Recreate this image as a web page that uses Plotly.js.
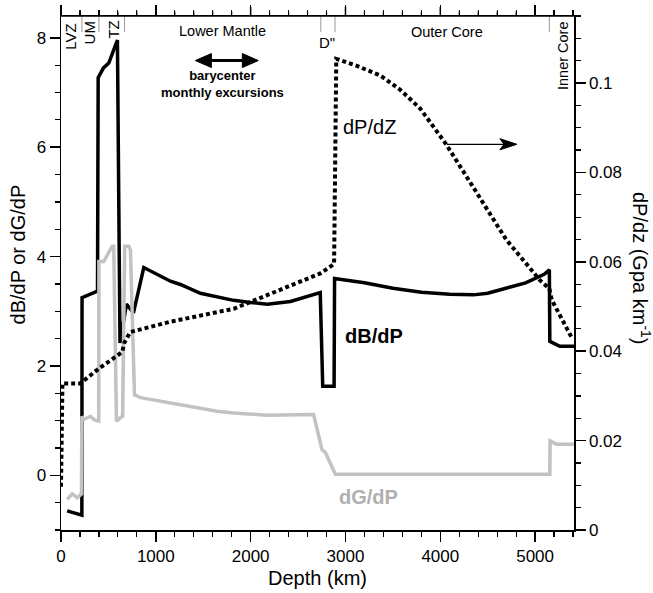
<!DOCTYPE html>
<html>
<head>
<meta charset="utf-8">
<script src="https://cdn.plot.ly/plotly-3.0.1.min.js"></script>
<style>
html,body{margin:0;padding:0;background:#fff;overflow:hidden;}
#wrap{position:relative;width:653px;height:593px;}
#chart{width:653px;height:593px;}
#frameTop{position:absolute;left:0;top:0;width:653px;height:593px;pointer-events:none;z-index:1000;}
</style>
</head>
<body>
<div id="wrap">
<div id="chart"></div>
<svg id="frameTop" xmlns="http://www.w3.org/2000/svg" width="653" height="593"></svg>
</div>
<script>
// dB/dP (left axis)
var dbDepth = [65, 220, 222, 385, 392, 448, 504, 595, 622, 690, 764, 873, 1154, 1259, 1470, 1820, 2000, 2175, 2420, 2734, 2760, 2880, 2885, 3200, 3500, 3800, 4100, 4350, 4500, 4700, 4900, 5100, 5150, 5155, 5260, 5410];
var dbVal   = [-0.65, -0.73, 3.25, 3.37, 7.27, 7.45, 7.54, 7.96, 2.42, 3.13, 2.97, 3.80, 3.55, 3.49, 3.33, 3.20, 3.16, 3.13, 3.18, 3.34, 1.63, 1.63, 3.60, 3.52, 3.42, 3.35, 3.31, 3.30, 3.33, 3.42, 3.52, 3.68, 3.76, 2.45, 2.36, 2.36];

// dG/dP (left axis)
var dgDepth = [65, 118, 171, 216, 220, 240, 311, 346, 398, 400, 451, 540, 556, 585, 645, 650, 672, 715, 732, 775, 838, 1119, 1294, 1646, 1821, 2173, 2664, 2752, 2787, 2893, 5155, 5158, 5225, 5410];
var dgVal   = [-0.44, -0.34, -0.41, -0.34, 1.08, 1.02, 1.08, 1.02, 0.99, 3.91, 3.91, 4.19, 4.19, 0.99, 1.08, 1.08, 4.19, 4.19, 4.13, 1.47, 1.42, 1.33, 1.27, 1.17, 1.14, 1.10, 1.11, 0.47, 0.42, 0.02, 0.02, 0.63, 0.57, 0.57];

// dP/dz (right axis, GPa/km)
var dpDepth = [0, 15, 205, 398, 645, 670, 732, 1154, 1821, 1950, 2418, 2734, 2880, 2903, 3114, 3367, 3577, 3788, 4062, 4347, 4694, 5050, 5150, 5175, 5382];
var dpVal   = [0.0097, 0.0328, 0.0328, 0.0361, 0.0398, 0.0420, 0.0443, 0.0466, 0.0495, 0.0506, 0.0547, 0.0574, 0.0595, 0.1054, 0.1039, 0.1017, 0.0985, 0.0943, 0.0863, 0.0768, 0.0650, 0.0559, 0.0540, 0.0515, 0.0432];

// region boundaries (km)
var boundaries = [220, 400, 670, 2740, 2890, 5150];
var xTicks = [0, 1000, 2000, 3000, 4000, 5000];
var xMinorStep = 200;
var xRange = [0, 5410];

var FONT = 'Arial, "Liberation Sans", sans-serif';

var traces = [
  {x: dbDepth, y: dbVal, type: 'scatter', mode: 'lines', name: 'dB/dP',
   line: {color: '#000000', width: 3.5}, yaxis: 'y', hoverinfo: 'skip'},
  {x: dgDepth, y: dgVal, type: 'scatter', mode: 'lines', name: 'dG/dP',
   line: {color: '#c2c2c2', width: 3.5}, yaxis: 'y', hoverinfo: 'skip'},
  {x: dpDepth, y: dpVal, type: 'scatter', mode: 'lines', name: 'dP/dz',
   line: {color: '#000000', width: 4, dash: '4px,3px'}, yaxis: 'y2', hoverinfo: 'skip'}
];

var shapes = boundaries.map(function (b) {
  return {type: 'line', xref: 'x', yref: 'paper', x0: b, x1: b, y0: 0.969, y1: 1,
          line: {color: '#9a9a9a', width: 1}};
});
// "barycenter monthly excursions" double arrow
shapes.push({type: 'line', xref: 'x', yref: 'y', x0: 1560, x1: 1940, y0: 7.585, y1: 7.585,
             line: {color: '#000', width: 3}});
shapes.push({type: 'path', xref: 'x', yref: 'y', path: 'M1417,7.585 L1586,7.713 L1586,7.457 Z',
             fillcolor: '#000', line: {color: '#000', width: 1}});
shapes.push({type: 'path', xref: 'x', yref: 'y', path: 'M2081,7.585 L1912,7.713 L1912,7.457 Z',
             fillcolor: '#000', line: {color: '#000', width: 1}});
// dP/dZ -> right-axis arrow
shapes.push({type: 'line', xref: 'x', yref: 'y2', x0: 4070, x1: 4690, y0: 0.0863, y1: 0.0863,
             line: {color: '#000', width: 1.2}});
shapes.push({type: 'path', xref: 'x', yref: 'y2', path: 'M4807,0.0863 L4628,0.08755 L4672,0.0863 L4628,0.08505 Z',
             fillcolor: '#000', line: {color: '#000', width: 1}});

function ann(o) {
  o.showarrow = false;
  o.xanchor = 'center';
  o.yanchor = 'middle';
  return o;
}

var annotations = [
  ann({text: 'LVZ', x: 105, y: 8.02, xref: 'x', yref: 'y', textangle: -90, font: {size: 15, color: '#000'}}),
  ann({text: 'UM', x: 300, y: 8.09, xref: 'x', yref: 'y', textangle: -90, font: {size: 15, color: '#000'}}),
  ann({text: 'TZ', x: 553, y: 8.16, xref: 'x', yref: 'y', textangle: -90, font: {size: 15, color: '#000'}}),
  ann({text: 'Lower Mantle', x: 1702, y: 8.13, xref: 'x', yref: 'y', font: {size: 14.5, color: '#000'}}),
  ann({text: 'D"', x: 2808, y: 7.91, xref: 'x', yref: 'y', font: {size: 15, color: '#000'}}),
  ann({text: 'Outer Core', x: 4073, y: 8.10, xref: 'x', yref: 'y', font: {size: 14.5, color: '#000'}}),
  ann({text: 'Inner Core', x: 5295, y: 7.67, xref: 'x', yref: 'y', textangle: -90, font: {size: 14.5, color: '#000'}}),
  ann({text: '<b>barycenter</b><br><b>monthly excursions</b>', x: 1699, y: 7.16, xref: 'x', yref: 'y', font: {size: 13, color: '#000'}}),
  ann({text: 'dP/dZ', x: 3254, y: 0.0901, xref: 'x', yref: 'y2', font: {size: 20, color: '#000'}}),
  ann({text: '<b>dB/dP</b>', x: 3302, y: 2.54, xref: 'x', yref: 'y', font: {size: 20, color: '#000'}}),
  ann({text: '<b>dG/dP</b>', x: 3245, y: -0.40, xref: 'x', yref: 'y', font: {size: 20, color: '#b0b0b0'}}),
  ann({text: 'dB/dP or dG/dP', x: -0.0848, y: 0.537, xref: 'paper', yref: 'paper', textangle: -90,
       font: {size: 20, color: '#000'}}),
  ann({text: 'dP/dz (Gpa km<sup>-1</sup>)', x: 1.1306, y: 0.5078, xref: 'paper', yref: 'paper', textangle: 90,
       font: {size: 20, color: '#000'}})
];

var layout = {
  width: 653, height: 593,
  margin: {l: 61, r: 79, t: 16, b: 63, pad: 0},
  paper_bgcolor: '#ffffff', plot_bgcolor: '#ffffff',
  font: {family: FONT, color: '#000', size: 17},
  showlegend: false,
  xaxis: {
    range: xRange, tickvals: xTicks, ticktext: xTicks.map(String),
    showgrid: false, zeroline: false, showline: true, linecolor: '#000', linewidth: 1.5,
    mirror: 'ticks',
    ticks: 'outside', ticklen: 10, tickwidth: 1.5, tickcolor: '#000',
    tickfont: {size: 17, family: FONT},
    minor: {dtick: xMinorStep, tick0: 0, ticks: 'outside', ticklen: 5, tickwidth: 1.2, tickcolor: '#000', showgrid: false},
    title: {text: 'Depth (km)', font: {size: 20, family: FONT}, standoff: 6}
  },
  yaxis: {
    range: [-1, 8.4], dtick: 2, tick0: 0,
    showgrid: false, zeroline: false, showline: true, linecolor: '#000', linewidth: 1.5,
    ticks: 'outside', ticklen: 10, tickwidth: 1.5, tickcolor: '#000',
    tickfont: {size: 17, family: FONT},
    minor: {dtick: 0.5, tick0: 0, ticks: 'outside', ticklen: 5, tickwidth: 1.2, tickcolor: '#000', showgrid: false}
  },
  yaxis2: {
    range: [0, 0.115], dtick: 0.02, tick0: 0, overlaying: 'y', side: 'right',
    showgrid: false, zeroline: false, showline: true, linecolor: '#000', linewidth: 1.5,
    ticks: 'outside', ticklen: 10, tickwidth: 1.5, tickcolor: '#000',
    tickfont: {size: 17, family: FONT},
    minor: {dtick: 0.005, tick0: 0, ticks: 'outside', ticklen: 5, tickwidth: 1.2, tickcolor: '#000', showgrid: false}
  },
  shapes: shapes,
  annotations: annotations
};

// Top frame line and its outward ticks, placed with Plotly's own x scale
function drawTopFrame(gd) {
  var fl = gd._fullLayout;
  var xa = fl.xaxis, ya = fl.yaxis;
  var svg = document.getElementById('frameTop');
  var NS = 'http://www.w3.org/2000/svg';
  var top = ya._offset;
  var left = xa._offset, right = xa._offset + xa._length;
  function line(x1, y1, x2, y2, w) {
    var l = document.createElementNS(NS, 'line');
    l.setAttribute('x1', x1); l.setAttribute('y1', y1);
    l.setAttribute('x2', x2); l.setAttribute('y2', y2);
    l.setAttribute('stroke', '#000'); l.setAttribute('stroke-width', w);
    svg.appendChild(l);
  }
  line(left - 0.75, top, right + 0.75, top, 1.5);
  for (var t = xRange[0]; t <= xRange[1]; t += xMinorStep) {
    var major = xTicks.indexOf(t) >= 0;
    var px = xa._offset + xa.l2p(t);
    line(px, top, px, top - (major ? 9 : 4.5), major ? 1.5 : 1.2);
  }
}

Plotly.newPlot('chart', traces, layout, {staticPlot: true, displayModeBar: false}).then(drawTopFrame);
</script>
</body>
</html>
